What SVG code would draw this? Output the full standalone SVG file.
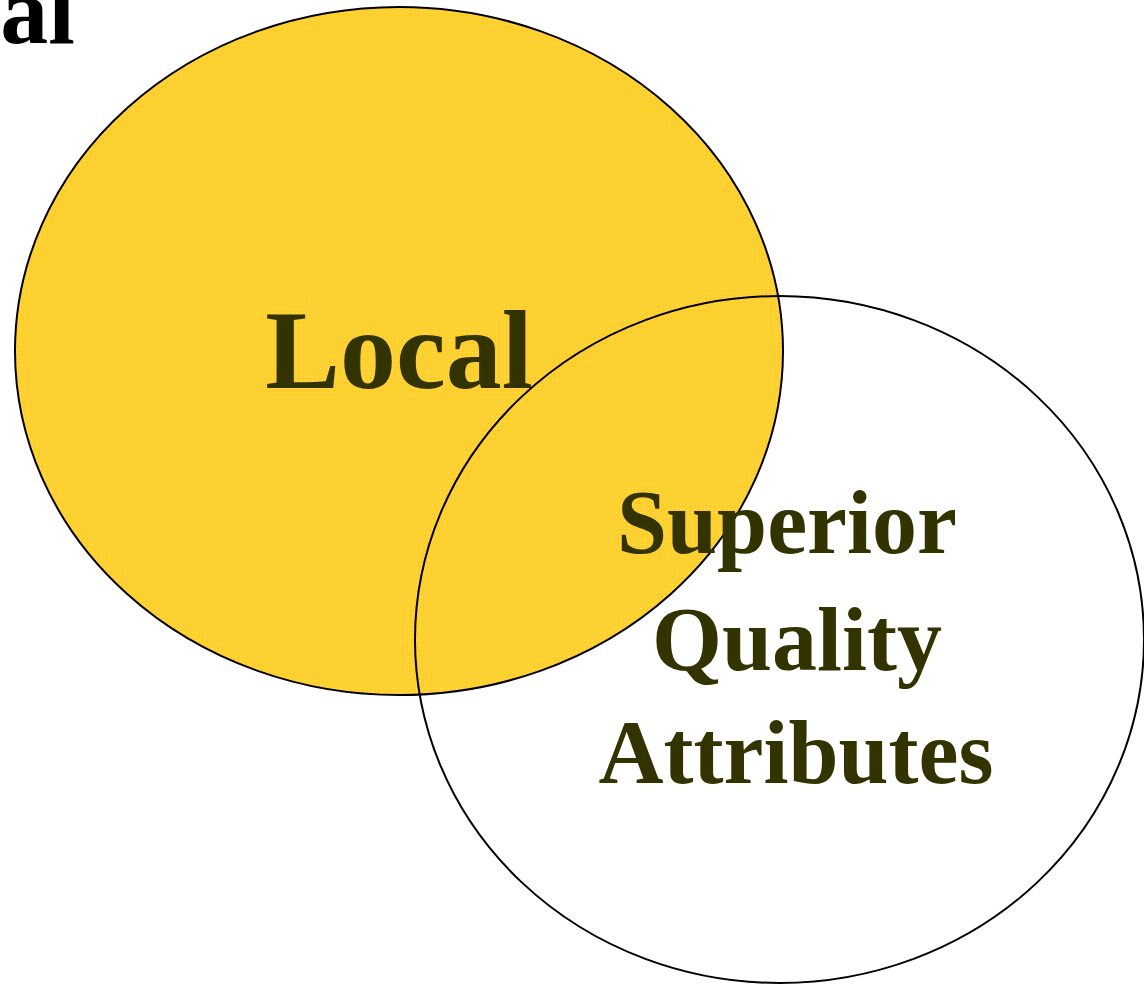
<svg xmlns="http://www.w3.org/2000/svg" width="1144" height="989" viewBox="0 0 1144 989">
<style>
.lbl{font-family:"Liberation Serif","Times New Roman",serif;font-weight:bold;fill:#333300;text-anchor:middle}
.ring{stroke:#000;stroke-width:2}
</style>
<defs>
<pattern id="tex" width="4" height="4" patternUnits="userSpaceOnUse">
<rect width="4" height="4" fill="#FFCF2E"/>
<rect x="0" y="0" width="1" height="1" fill="#FFE36A"/>
</pattern>
</defs>
<rect width="1144" height="989" fill="#fff"/>
<text x="75" y="43" font-family="Liberation Serif, serif" font-weight="bold" font-size="96" text-anchor="end" fill="#000">al</text>
<g id="local">
<ellipse class="ring" cx="399" cy="351" rx="384" ry="344" fill="url(#tex)"/>
<text class="lbl" x="399" y="388" font-size="112">Local</text>
</g>
<g id="quality">
<ellipse class="ring" cx="779.5" cy="639.5" rx="364.5" ry="343.5" fill="none"/>
<text class="lbl" font-size="90"><tspan x="787" y="553">Superior</tspan><tspan x="797" y="670">Quality</tspan><tspan x="796" y="783">Attributes</tspan></text>
</g>
<g id="connectors"/>
</svg>
